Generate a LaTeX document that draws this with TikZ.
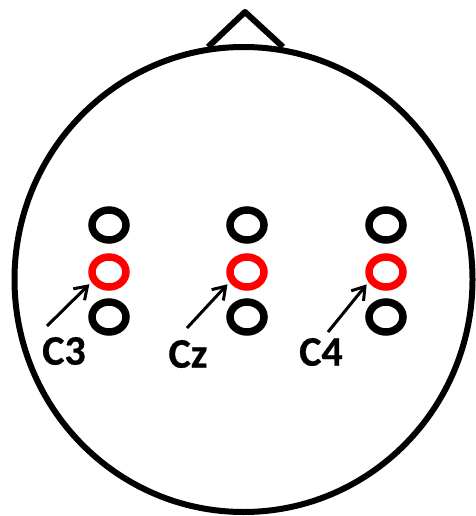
\documentclass[tikz,border=0pt]{standalone}
\usepackage{fontspec}
\setmainfont{Carlito}[BoldFeatures={FakeBold=0.6}]
\usetikzlibrary{arrows.meta,shapes.geometric}
\begin{document}
\begin{tikzpicture}[x=1pt,y=-1pt,
  headline/.style={draw=black,line width=6pt,line join=round},
  electrode/.style={ellipse,draw=black,line width=7.5pt,minimum width=34pt,minimum height=30pt,inner sep=0pt},
  active/.style={electrode,draw=red},
  pointer/.style={line width=3pt,shorten >=3pt,-{Straight Barb[length=12pt,width=16pt,line width=3pt]}},
  lbl/.style={font=\fontsize{42}{42}\selectfont\bfseries,inner sep=0pt}]
\useasboundingbox (0,0) rectangle (475,516);
% nose
\draw[headline] (208,47) -- (245,12) -- (283,47);
% head
\draw[headline,fill=white] (243.5,279.5) ellipse [x radius=229, y radius=232.5];
% electrodes
\foreach \n/\x in {c3/109, cz/247, c4/386}{
  \node[electrode] (\n t) at (\x,225) {};
  \node[active]    (\n) at (\x,272) {};
  \node[electrode] (\n b) at (\x,317) {};
}
% labels
\node[lbl] (l3) at (64,351) {C3};
\node[lbl] (lz) at (188,354) {Cz};
\node[lbl] (l4) at (321,352) {C4};
% arrows
\coordinate (a3) at (47,326);
\coordinate (az) at (187,328);
\coordinate (a4) at (328,332);
\draw[pointer] (a3) -- (c3.210);
\draw[pointer] (az) -- (cz.210);
\draw[pointer] (a4) -- (c4.210);
\end{tikzpicture}
\end{document}
